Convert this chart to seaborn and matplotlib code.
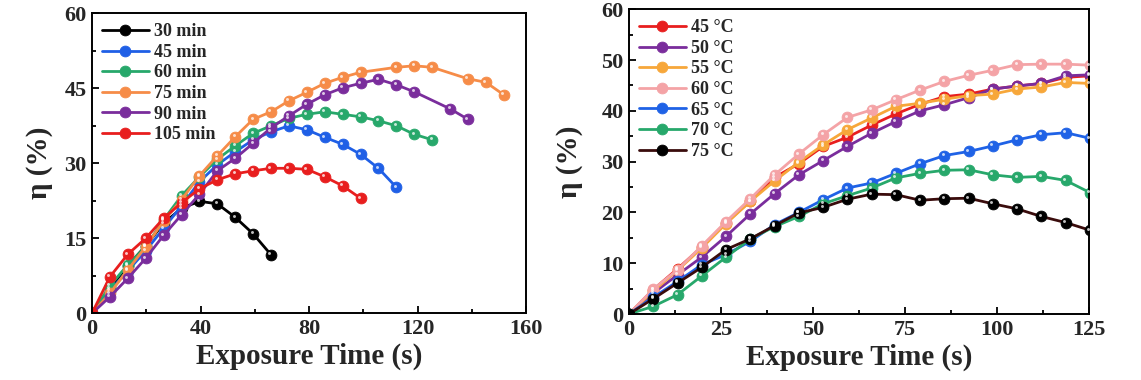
import numpy as np
import pandas as pd
import matplotlib
matplotlib.use("Agg")
import matplotlib.pyplot as plt
import matplotlib.transforms as mtransforms
from matplotlib.ticker import MultipleLocator, AutoMinorLocator
import seaborn as sns

sns.set_theme(style="ticks")
plt.rcParams["font.family"] = ["Liberation Serif", "DejaVu Serif"]
plt.rcParams["font.weight"] = "bold"
plt.rcParams["axes.labelweight"] = "bold"

STEP = 6.6  # sampling interval (s)

# ---------------- Left panel: exposure duration series ----------------
left_labels = ["30 min", "45 min", "60 min", "75 min", "90 min", "105 min"]
left_colors = ["#000000", "#1f5fe6", "#27a86b", "#f68c48", "#7a2d9c", "#e81e1e"]

idx_30 = list(range(0, 11))
val_30 = [0, 5.0, 9.5, 13.5, 18.0, 21.0, 22.4, 21.9, 19.2, 15.9, 11.7]
idx_45 = list(range(0, 18))
val_45 = [0, 4.5, 8.5, 12.5, 17.0, 21.5, 26.3, 29.7, 32.3, 34.7, 36.3, 37.5,
          36.7, 35.2, 33.8, 31.8, 29.0, 25.2]
idx_60 = list(range(0, 20))
val_60 = [0, 5.5, 9.7, 13.3, 18.7, 23.5, 27.3, 30.8, 33.5, 36.0, 37.5, 39.0,
          39.8, 40.3, 39.8, 39.3, 38.5, 37.5, 35.8, 34.7]
idx_75 = list(range(0, 16)) + [17, 18, 19, 21, 22, 23]
val_75 = [0, 4.0, 8.7, 13.3, 18.5, 22.7, 27.5, 31.5, 35.3, 38.8, 40.3, 42.5,
          44.2, 46.0, 47.2, 48.2, 49.2, 49.5, 49.2, 46.9, 46.2, 43.7]
idx_90 = list(range(0, 19)) + [20, 21]
val_90 = [0, 3.3, 7.0, 11.0, 15.6, 19.7, 23.8, 28.5, 31.0, 34.0, 37.1, 39.5,
          41.8, 43.7, 45.1, 46.0, 46.8, 45.7, 44.3, 40.9, 38.8]
idx_105 = list(range(0, 16))
val_105 = [0, 7.3, 11.8, 15.0, 19.0, 22.1, 24.9, 26.7, 27.9, 28.5, 29.0, 29.0,
           28.8, 27.3, 25.5, 23.0]

left_idx = [idx_30, idx_45, idx_60, idx_75, idx_90, idx_105]
left_vals = [val_30, val_45, val_60, val_75, val_90, val_105]

# ---------------- Right panel: temperature series ----------------
right_labels = ["45 °C", "50 °C", "55 °C", "60 °C", "65 °C", "70 °C", "75 °C"]
right_colors = ["#e81e1e", "#7a2d9c", "#f7a73a", "#f4a3a6", "#1f62e6", "#27a86b", "#3a0c0c"]
right_marker_colors = ["#e81e1e", "#7a2d9c", "#f7a73a", "#f4a3a6", "#1f62e6", "#27a86b", "#000000"]

right_idx = list(range(0, 20))
val_45C = [0, 4.8, 8.9, 13.2, 18.0, 22.2, 26.9, 29.6, 33.0, 34.8, 37.2, 39.4,
           41.3, 42.8, 43.3, 44.3, 44.9, 45.4, 46.6, 46.9]
val_50C = [0, 4.1, 7.7, 11.2, 15.3, 19.7, 23.7, 27.4, 30.2, 33.0, 35.6, 37.9,
           40.0, 41.2, 42.6, 44.3, 44.9, 45.4, 46.9, 47.1]
val_55C = [0, 4.5, 8.6, 13.0, 17.8, 22.2, 26.2, 29.9, 33.3, 36.3, 38.6, 40.9,
           41.5, 42.3, 43.0, 43.3, 44.3, 44.7, 45.6, 45.4]
val_60C = [0, 4.9, 8.7, 13.4, 18.2, 22.7, 27.4, 31.5, 35.3, 38.7, 40.2, 42.2,
           44.1, 45.8, 47.0, 48.0, 49.1, 49.2, 49.2, 49.0]
val_65C = [0, 3.3, 6.4, 9.7, 11.7, 14.3, 17.6, 20.0, 22.5, 24.8, 25.8, 27.7,
           29.6, 31.2, 32.0, 33.1, 34.3, 35.3, 35.7, 34.6]
val_70C = [0, 1.5, 3.8, 7.5, 11.2, 14.8, 17.2, 19.2, 21.7, 23.3, 24.8, 26.8,
           27.7, 28.3, 28.4, 27.4, 26.9, 27.1, 26.3, 23.9]
val_75C = [0, 3.0, 6.1, 9.2, 12.7, 14.8, 17.4, 19.9, 21.0, 22.6, 23.6, 23.5,
           22.4, 22.7, 22.8, 21.7, 20.7, 19.2, 18.0, 16.5]
right_vals = [val_45C, val_50C, val_55C, val_60C, val_65C, val_70C, val_75C]

W, H = 1141, 380
fig = plt.figure(figsize=(W / 100, H / 100), dpi=100)
axL = fig.add_axes([92 / W, 1 - 313.3 / H, 434 / W, 300 / H])
axR = fig.add_axes([629 / W, 1 - 314 / H, 459.5 / W, 304.7 / H])

hl = mtransforms.ScaledTranslation(-1.1 / 72, 1.1 / 72, fig.dpi_scale_trans)


def draw(ax, x, y, color, mcolor, label):
    sns.lineplot(x=x, y=y, ax=ax, color=color, linewidth=2.0, marker="o",
                 markersize=7.8, markerfacecolor=mcolor, markeredgecolor=mcolor,
                 markeredgewidth=0.6, label=label, sort=False, estimator=None)
    ax.scatter(x, y, s=4.5, color="white", alpha=0.75, zorder=5,
               transform=ax.transData + hl, linewidths=0)


for idx, vals, c, lab in zip(left_idx, left_vals, left_colors, left_labels):
    t = np.array(idx) * STEP
    draw(axL, t, vals, c, c, lab)

t_r = np.array(right_idx) * STEP
for vals, c, mc, lab in zip(right_vals, right_colors, right_marker_colors, right_labels):
    draw(axR, t_r, vals, c, mc, lab)

axL.set_xlim(0, 160)
axL.set_ylim(0, 60)
axL.xaxis.set_major_locator(MultipleLocator(40))
axL.yaxis.set_major_locator(MultipleLocator(15))
axR.set_xlim(0, 125)
axR.set_ylim(0, 60)
axR.xaxis.set_major_locator(MultipleLocator(25))
axR.yaxis.set_major_locator(MultipleLocator(10))

for ax, lp in ((axL, 8), (axR, 13)):
    ax.xaxis.set_minor_locator(AutoMinorLocator(2))
    ax.yaxis.set_minor_locator(AutoMinorLocator(2))
    ax.tick_params(which="both", direction="in", top=False, right=False,
                   width=1.3, color="black")
    ax.tick_params(which="major", length=5, labelsize=16, pad=4)
    ax.tick_params(which="minor", length=3)
    for lbl in ax.get_xticklabels() + ax.get_yticklabels():
        lbl.set_fontweight("bold")
    for sp in ax.spines.values():
        sp.set_visible(True)
        sp.set_color("black")
        sp.set_linewidth(1.4)
    ax.set_xlabel("Exposure Time (s)", fontsize=21, fontweight="bold", labelpad=3)
    ax.set_ylabel("η (%)", fontsize=21, fontweight="bold", labelpad=lp)
    ax.set_facecolor("white")
    ax.legend(loc="upper left", frameon=False,
              handlelength=2.6, handletextpad=0.3, labelspacing=0.2,
              borderaxespad=0.15, prop={"weight": "bold", "size": 13})

plt.savefig("out.png", dpi=100, facecolor="white")
